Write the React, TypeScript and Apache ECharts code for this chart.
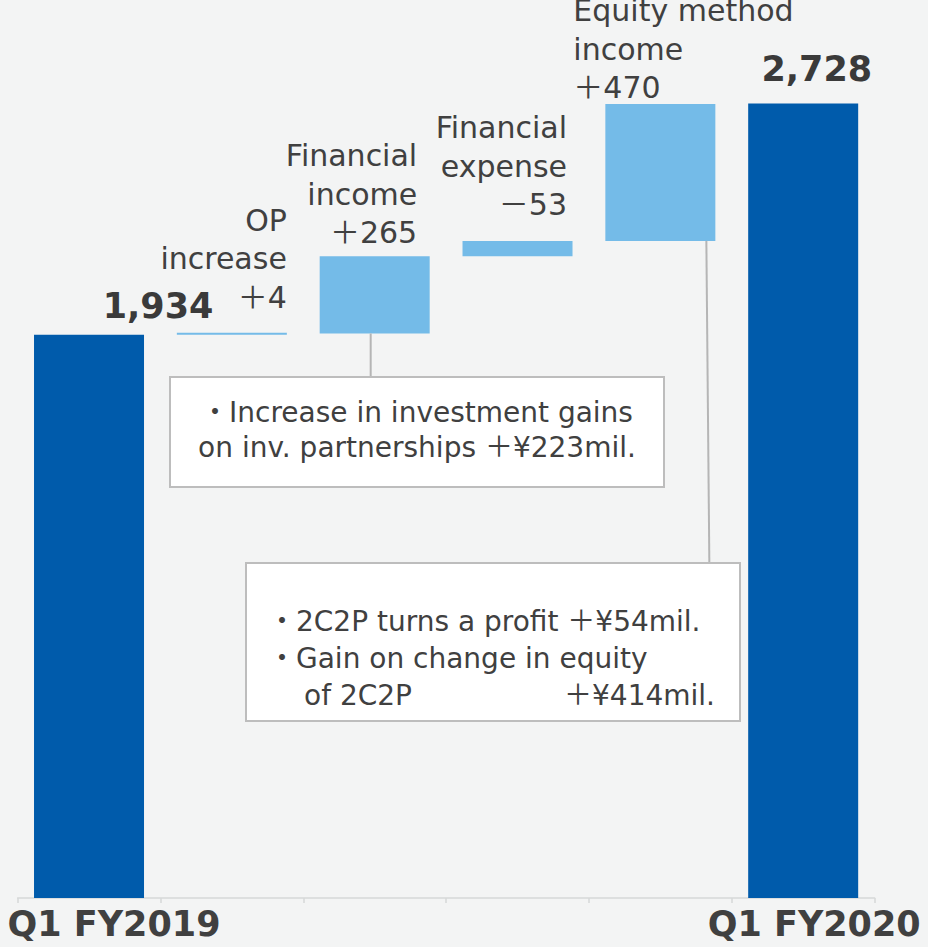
import React, { useEffect, useRef } from "react";
import * as echarts from "echarts";

const categories = [
  "Q1 FY2019",
  "OP increase",
  "Financial income",
  "Financial expense",
  "Equity method income",
  "Q1 FY2020",
];
// visible part of each bar (totals for first/last, increments in between)
const deltaValues = [1934, 4, 265, 53, 470, 2728];
// invisible base under each increment
const baseValues = [0, 1934, 1938, 2203, 2256, 0];
const barLabels = [
  "1,934",
  "OP\nincrease\n＋4",
  "Financial\nincome\n＋265",
  "Financial\nexpense\n－53",
  "Equity method\nincome\n＋470",
  "2,728",
];
const isTotal = [true, false, false, false, false, true];

const note1Lines = ["・Increase in investment gains", "on inv. partnerships ＋¥223mil."];
const note2Lines = ["・2C2P turns a profit ＋¥54mil.", "・Gain on change in equity"];
const note2Last = ["of 2C2P", "＋¥414mil."];

const FONT = "'DejaVu Sans', 'Noto Sans CJK JP', sans-serif";
const TEXT = "#404040";
const DARK = "#005bab";
const LIGHT = "#74bbe8";
const BG = "#f3f4f4";

// label placement per bar: [align, offsetX, distance]
const labelPlace: [string, number, number][] = [
  ["center", 69, 11],
  ["right", 55, 16],
  ["right", 42.5, 4.5],
  ["right", 49.5, 17],
  ["left", -87, -3],
  ["center", 13.6, 17],
];

export default function App() {
  const ref = useRef<HTMLDivElement>(null);
  useEffect(() => {
    document.body.style.margin = "0";
    const chart = echarts.init(ref.current!, null, { renderer: "svg" });
    const option: any = {
      animation: false,
      backgroundColor: BG,
      grid: { left: 17.6, right: 53.4, top: 0, bottom: 49, containLabel: false },
      xAxis: {
        type: "category",
        data: categories,
        axisLine: { lineStyle: { color: "#d6d8d8", width: 1.5 } },
        axisTick: { show: true, length: 5, lineStyle: { color: "#d6d8d8", width: 1.5 } },
        axisLabel: {
          interval: 0,
          margin: 8,
          formatter: (v: string, i: number) =>
            i === 0 ? `{a|${v}}` : i === categories.length - 1 ? `{b|${v}}` : "",
          rich: {
            a: { fontFamily: FONT, fontSize: 35, fontWeight: "bold", color: TEXT, padding: [0, 0, 0, 50] },
            b: { fontFamily: FONT, fontSize: 35, fontWeight: "bold", color: TEXT, padding: [0, 0, 0, 22] },
          },
        },
      },
      yAxis: { type: "value", min: 0, max: 3083, show: false, splitLine: { show: false } },
      series: [
        {
          type: "bar",
          stack: "w",
          barWidth: 110,
          itemStyle: { color: "transparent" },
          emphasis: { disabled: true },
          silent: true,
          data: baseValues,
        },
        {
          type: "bar",
          stack: "w",
          barWidth: 110,
          barMinHeight: 2,
          silent: true,
          data: deltaValues.map((v, i) => ({
            value: v,
            itemStyle: { color: isTotal[i] ? DARK : LIGHT },
            label: {
              show: true,
              position: "top",
              formatter: barLabels[i],
              align: labelPlace[i][0],
              offset: [labelPlace[i][1], 0],
              distance: labelPlace[i][2],
              fontFamily: FONT,
              fontSize: isTotal[i] ? 35 : 30,
              fontWeight: isTotal[i] ? "bold" : "normal",
              lineHeight: isTotal[i] ? 35 : 38.5,
              color: isTotal[i] ? "#3a3a3a" : TEXT,
            },
          })),
        },
      ],
    };
    chart.setOption(option);

    const top2 = chart.convertToPixel({ gridIndex: 0 }, [2, baseValues[2]]) as number[];
    const top4 = chart.convertToPixel({ gridIndex: 0 }, [4, baseValues[4]]) as number[];

    const box1 = { x: 170, y: 377, w: 494, h: 110 };
    const box2 = { x: 246, y: 563, w: 494, h: 158 };
    const lineStyle = { stroke: "#b5b5b5", lineWidth: 2 };
    const txt = (text: string, x: number, y: number, align: string, lh = 35) => ({
      type: "text",
      z: 102,
      style: {
        text,
        x,
        y,
        align,
        verticalAlign: "middle",
        fontFamily: FONT,
        fontSize: 28,
        lineHeight: lh,
        fill: TEXT,
      },
    });
    chart.setOption({
      graphic: [
        {
          type: "line",
          z: 90,
          shape: { x1: top2[0] - 4, y1: top2[1], x2: top2[0] - 4, y2: box1.y },
          style: lineStyle,
        },
        {
          type: "line",
          z: 90,
          shape: { x1: top4[0] + 46, y1: top4[1], x2: top4[0] + 49, y2: box2.y },
          style: lineStyle,
        },
        {
          type: "rect",
          z: 100,
          shape: { x: box1.x, y: box1.y, width: box1.w, height: box1.h },
          style: { fill: "#ffffff", stroke: "#bdbdbd", lineWidth: 2 },
        },
        txt(note1Lines.join("\n"), box1.x + box1.w / 2, 430, "center"),
        {
          type: "rect",
          z: 100,
          shape: { x: box2.x, y: box2.y, width: box2.w, height: box2.h },
          style: { fill: "#ffffff", stroke: "#bdbdbd", lineWidth: 2 },
        },
        txt(note2Lines.join("\n"), 268, 640, "left", 36.5),
        txt(note2Last[0], 304, 695, "left"),
        txt(note2Last[1], 715, 695, "right"),
      ],
    });
    return () => chart.dispose();
  }, []);
  return <div ref={ref} style={{ width: 928, height: 947 }} />;
}
